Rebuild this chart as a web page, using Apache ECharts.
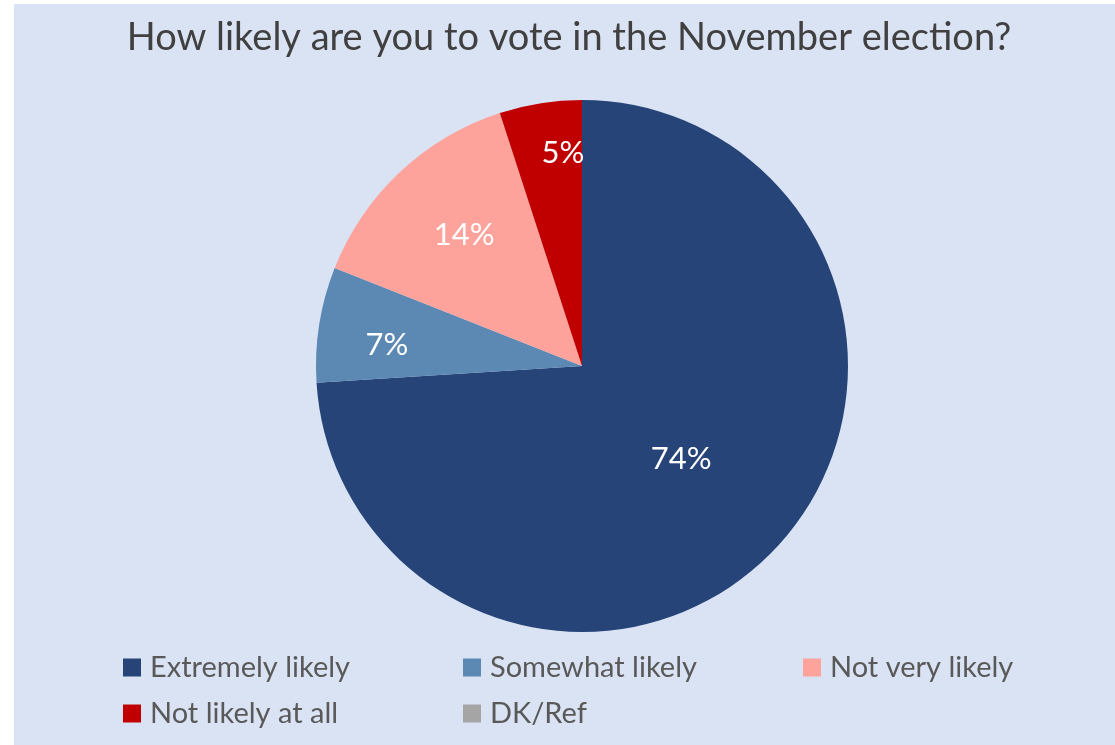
<!DOCTYPE html>
<html>
<head>
<meta charset="utf-8">
<title>How likely are you to vote in the November election?</title>
<script src="https://cdn.jsdelivr.net/npm/echarts@6/dist/echarts.min.js"></script>
<style>
  html, body { margin: 0; padding: 0; background: #ffffff; }
  #chart { width: 1115px; height: 745px; }
</style>
</head>
<body>
<div id="chart"></div>
<script>
// Survey responses (percent of respondents)
const titleText = 'How likely are you to vote in the November election?';
const categories = ['Extremely likely', 'Somewhat likely', 'Not very likely', 'Not likely at all', 'DK/Ref'];
const shares = [74, 7, 14, 5, 0];
const colors = ['#264478', '#5B89B4', '#FDA39B', '#C00000', '#A5A5A5'];

// Label placement: which ring each percentage sits on, plus a small nudge to keep it clear of slice edges
const labelRing = ['mid', 'outer', 'inner', 'edge', 'none'];
const labelNudge = [[0, 0], [-3, 9], [8, 3], [15, 1], [0, 0]];

const FONT = 'Lato, "Open Sans", sans-serif';

const chart = echarts.init(document.getElementById('chart'), null, { renderer: 'canvas' });

const pieCenter = [582, 366];
const pieRadius = 266;

function sliceData(ring, transparent) {
  return categories.map((name, i) => ({
    name: name,
    value: shares[i],
    itemStyle: { color: transparent ? 'rgba(0,0,0,0)' : colors[i] },
    label: { show: labelRing[i] === ring && shares[i] > 0, offset: labelNudge[i] }
  }));
}

const labelStyle = {
  position: 'inside',
  formatter: '{c}%',
  color: '#ffffff',
  fontFamily: FONT,
  fontSize: 31
};

// Ring radii chosen so the "inside" label (placed midway between r0 and r) lands at the wanted distance
function ring(ringName, innerFrac) {
  return {
    type: 'pie',
    center: pieCenter,
    radius: [pieRadius * innerFrac, pieRadius],
    startAngle: 90,
    clockwise: true,
    silent: true,
    z: 5,
    label: labelStyle,
    labelLine: { show: false },
    emphasis: { disabled: true },
    data: sliceData(ringName, true)
  };
}

function legendColumn(names, left) {
  return {
    data: names,
    left: left,
    top: 653,
    padding: 0,
    orient: 'vertical',
    icon: 'rect',
    itemWidth: 18,
    itemHeight: 18,
    itemGap: 17,
    selectedMode: false,
    textStyle: {
      color: '#595959',
      fontFamily: FONT,
      fontSize: 29,
      lineHeight: 28,
      padding: [0, 0, 0, 4]
    }
  };
}

chart.setOption({
  backgroundColor: '#ffffff',
  animation: false,
  graphic: [{
    type: 'rect',
    left: 14,
    top: 4,
    shape: { width: 1101, height: 741 },
    style: { fill: '#DAE3F3' },
    z: -10
  }],
  title: {
    text: titleText,
    left: 564,
    textAlign: 'center',
    top: 14,
    textStyle: {
      color: '#404040',
      fontFamily: FONT,
      fontWeight: 'normal',
      fontSize: 38
    }
  },
  legend: [
    legendColumn([categories[0], categories[3]], 123),
    legendColumn([categories[1], categories[4]], 463),
    legendColumn([categories[2]], 803)
  ],
  series: [
    {
      type: 'pie',
      name: 'Likelihood',
      center: pieCenter,
      radius: [0, pieRadius],
      startAngle: 90,
      clockwise: true,
      z: 2,
      label: labelStyle,
      labelLine: { show: false },
      emphasis: { scale: false },
      data: sliceData('mid', false)
    },
    ring('outer', 0.44),
    ring('inner', 0.36),
    ring('edge', 0.61)
  ]
});
</script>
</body>
</html>
